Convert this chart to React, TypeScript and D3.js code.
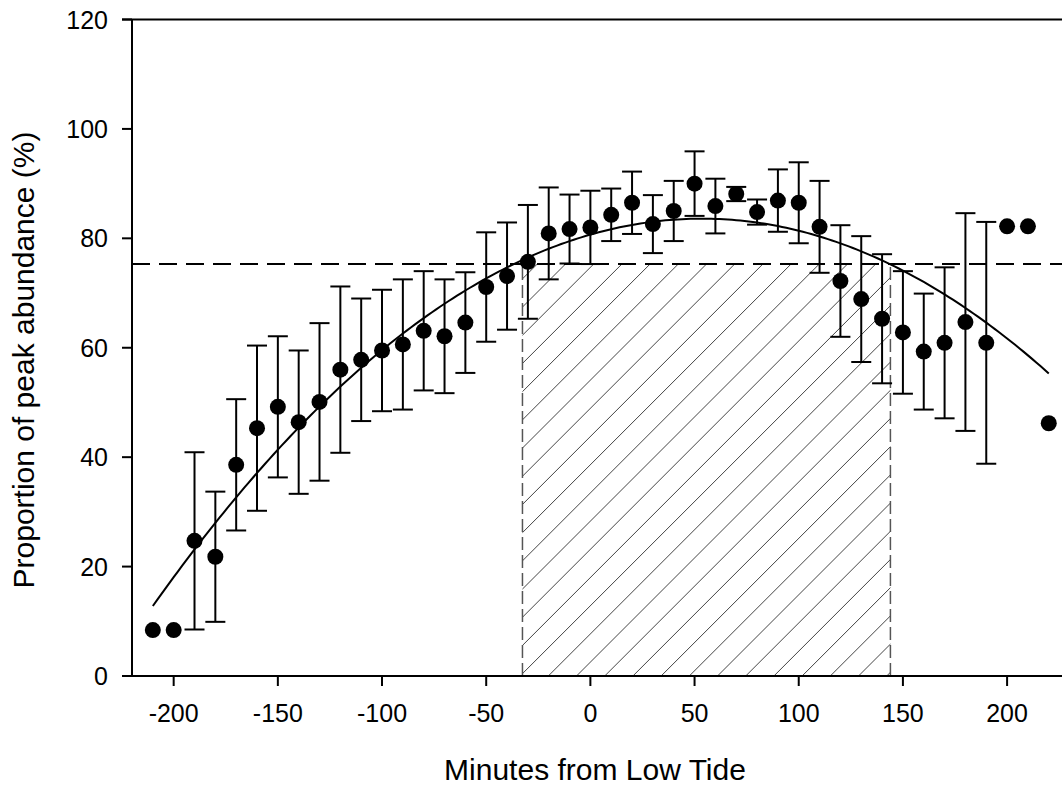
import React from "react";
import * as d3 from "d3";

// ---- Data ----
const minutes = [
  -210, -200, -190, -180, -170, -160, -150, -140, -130, -120, -110, -100, -90, -80, -70, -60,
  -50, -40, -30, -20, -10, 0, 10, 20, 30, 40, 50, 60, 70, 80, 90, 100, 110, 120, 130, 140,
  150, 160, 170, 180, 190, 200, 210, 220,
];
const meanAbundance = [
  8.4, 8.4, 24.7, 21.8, 38.6, 45.3, 49.2, 46.4, 50.1, 56.0, 57.8, 59.5, 60.6, 63.1, 62.1, 64.6,
  71.1, 73.1, 75.7, 80.9, 81.7, 82.0, 84.3, 86.5, 82.6, 85.0, 90.0, 85.9, 88.1, 84.8, 86.9, 86.5,
  82.1, 72.2, 68.9, 65.3, 62.8, 59.3, 60.9, 64.7, 60.9, 82.2, 82.2, 46.2,
];
const errorAbundance = [
  0, 0, 16.2, 11.9, 12.0, 15.1, 12.9, 13.1, 14.4, 15.2, 11.2, 11.1, 11.9, 10.9, 10.4, 9.2,
  10.0, 9.8, 10.4, 8.4, 6.3, 6.7, 4.8, 5.7, 5.3, 5.5, 5.9, 5.0, 1.3, 2.3, 5.7, 7.4,
  8.4, 10.2, 11.5, 11.8, 11.2, 10.6, 13.8, 19.9, 22.1, 0, 0, 0,
];
// quadratic fit: y = c0 + c1*x + c2*x^2
const fitCoefficients = [80.68, 0.1091, -0.00102];
const fitRange = [-210, 220];
const threshold = 75.3; // 90% of fitted peak
const hatchRange = [-32.6, 144];

const xTicks = [-200, -150, -100, -50, 0, 50, 100, 150, 200];
const yTicks = [0, 20, 40, 60, 80, 100, 120];
const xTitle = "Minutes from Low Tide";
const yTitle = "Proportion of peak abundance (%)";

const W = 1062;
const H = 787;

export default function App() {
  const x = d3.scaleLinear().domain([-220, 230]).range([132, 1069.6]);
  const y = d3.scaleLinear().domain([0, 120]).range([676, 19.5]);

  const fitPts: [number, number][] = d3
    .range(fitRange[0], fitRange[1] + 0.5, 2)
    .map((m) => [m, fitCoefficients[0] + fitCoefficients[1] * m + fitCoefficients[2] * m * m]);
  const line = d3
    .line<[number, number]>()
    .x((d) => x(d[0]))
    .y((d) => y(d[1]));

  const hx0 = x(hatchRange[0]);
  const hx1 = x(hatchRange[1]);
  const hy = y(threshold);
  const base = y(0);
  const hatchLines: number[] = [];
  const step = 28.2;
  const origin = 548.3;
  for (let n = -30; n <= 30; n++) hatchLines.push(origin + n * step);

  const font = "'Liberation Sans', Arial, sans-serif";
  const left = x.range()[0];
  const right = W;

  return (
    <svg
      width={W}
      height={H}
      style={{ position: "absolute", left: 0, top: 0, background: "#fff" }}
      fontFamily={font}
    >
      <defs>
        <clipPath id="hatchClip">
          <rect x={hx0} y={hy} width={hx1 - hx0} height={base - hy} />
        </clipPath>
      </defs>
      <rect x={0} y={0} width={W} height={H} fill="#fff" />

      {/* hatched region */}
      <g clipPath="url(#hatchClip)">
        {hatchLines.map((x0, i) => (
          <line
            key={i}
            x1={x0}
            y1={base}
            x2={x0 + 500}
            y2={base - 500}
            stroke="#444"
            strokeWidth={1}
          />
        ))}
      </g>
      <line x1={hx0} x2={hx0} y1={base} y2={hy} stroke="#555" strokeWidth={1.5} strokeDasharray="13,5" />
      <line x1={hx1} x2={hx1} y1={base} y2={hy} stroke="#555" strokeWidth={1.5} strokeDasharray="13,5" />

      {/* threshold dashed line */}
      <line x1={left} x2={right} y1={hy} y2={hy} stroke="#000" strokeWidth={2} strokeDasharray="18,9" />

      {/* fit curve */}
      <path d={line(fitPts) || ""} fill="none" stroke="#000" strokeWidth={2} />

      {/* error bars */}
      {minutes.map((m, i) => {
        const e = errorAbundance[i];
        if (!e) return null;
        const cx = x(m);
        const yt = y(meanAbundance[i] + e);
        const yb = y(meanAbundance[i] - e);
        return (
          <g key={"e" + i} stroke="#000" strokeWidth={2}>
            <line x1={cx} x2={cx} y1={yt} y2={yb} />
            <line x1={cx - 10} x2={cx + 10} y1={yt} y2={yt} />
            <line x1={cx - 10} x2={cx + 10} y1={yb} y2={yb} />
          </g>
        );
      })}

      {/* points */}
      {minutes.map((m, i) => (
        <circle key={"p" + i} cx={x(m)} cy={y(meanAbundance[i])} r={8} fill="#000" />
      ))}

      {/* axes frame */}
      <line x1={left} x2={left} y1={y(120)} y2={base} stroke="#000" strokeWidth={2} />
      <line x1={left - 10} x2={right} y1={base} y2={base} stroke="#000" strokeWidth={2} />
      <line x1={left - 10} x2={right} y1={y(120)} y2={y(120)} stroke="#000" strokeWidth={2} />

      {/* y ticks */}
      {yTicks.map((t) => (
        <g key={"yt" + t}>
          <line x1={left - 10} x2={left} y1={y(t)} y2={y(t)} stroke="#000" strokeWidth={2} />
          <text x={108} y={y(t) + 9} textAnchor="end" fontSize={25} fill="#000">
            {t}
          </text>
        </g>
      ))}

      {/* x ticks */}
      {xTicks.map((t) => (
        <g key={"xt" + t}>
          <line x1={x(t)} x2={x(t)} y1={base} y2={base + 10} stroke="#000" strokeWidth={2} />
          <text x={x(t)} y={722} textAnchor="middle" fontSize={25} fill="#000">
            {t}
          </text>
        </g>
      ))}

      {/* axis titles */}
      <text x={595} y={780} textAnchor="middle" fontSize={30} fill="#000">
        {xTitle}
      </text>
      <text
        transform={`translate(34, 360) rotate(-90)`}
        textAnchor="middle"
        fontSize={30}
        fill="#000"
      >
        {yTitle}
      </text>
    </svg>
  );
}
